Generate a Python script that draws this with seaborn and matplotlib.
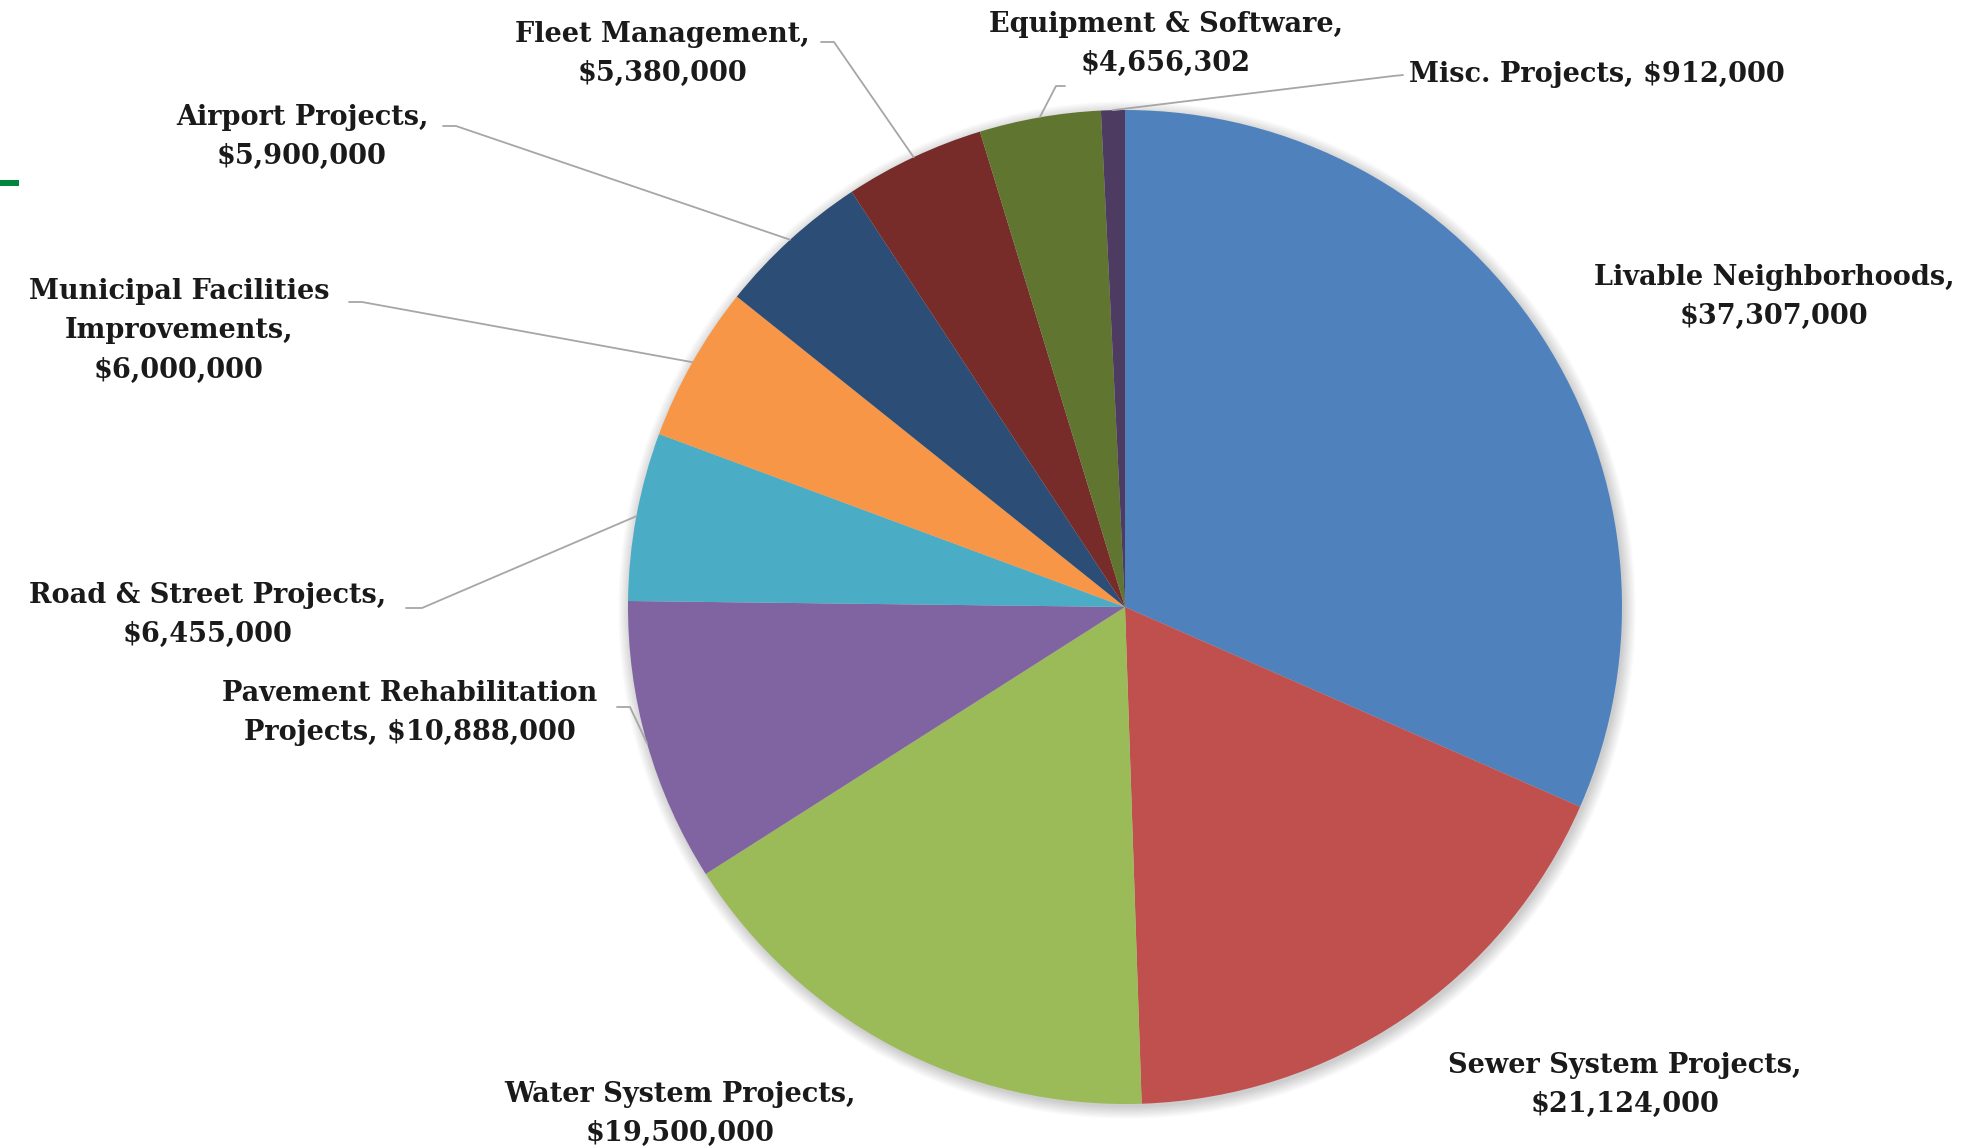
import numpy as np
import matplotlib
matplotlib.use("Agg")
import matplotlib.pyplot as plt
import seaborn as sns
from matplotlib.patches import Circle, Rectangle

sns.set_style("white")
plt.rcParams['font.family'] = ['DejaVu Serif']

# Data (clockwise from 12 o'clock)
categories = ["Livable Neighborhoods", "Sewer System Projects", "Water System Projects",
              "Pavement Rehabilitation Projects", "Road & Street Projects",
              "Municipal Facilities Improvements", "Airport Projects",
              "Fleet Management", "Equipment & Software", "Misc. Projects"]
amounts = [37307000, 21124000, 19500000, 10888000, 6455000,
           6000000, 5900000, 5380000, 4656302, 912000]
label_text = ["Livable Neighborhoods,\n$37,307,000",
              "Sewer System Projects,\n$21,124,000",
              "Water System Projects,\n$19,500,000",
              "Pavement Rehabilitation\nProjects, $10,888,000",
              "Road & Street Projects,\n$6,455,000",
              "Municipal Facilities\nImprovements,\n$6,000,000",
              "Airport Projects,\n$5,900,000",
              "Fleet Management,\n$5,380,000",
              "Equipment & Software,\n$4,656,302",
              "Misc. Projects, $912,000"]
colors = ["#4F81BD", "#C0504D", "#9BBB59", "#8064A2", "#4BACC6",
          "#F79646", "#2C4D75", "#772C2A", "#5F7530", "#4D3B62"]

W, H = 1969, 1148
fig = plt.figure(figsize=(W / 100, H / 100), dpi=100)
ax = fig.add_axes([0, 0, 1, 1])

def Y(y):
    return H - y

cx, cy, r = 1125, 607, 497

# soft shadow
for i in range(10):
    ax.add_patch(Circle((cx + 2, Y(cy) - 3), r + i * 1.3, color="#000000",
                        alpha=0.018, lw=0, zorder=1))

wedges, _ = ax.pie(amounts, colors=colors, startangle=90, counterclock=False,
                   center=(cx, Y(cy)), radius=r, frame=True,
                   wedgeprops=dict(linewidth=0))
for w in wedges:
    w.set_zorder(2)
ax.set_xlim(0, W)
ax.set_ylim(0, H)
ax.set_aspect("equal")
ax.axis("off")

# label placement: (x, y, ha) in pixels from top-left, and leader start points
label_pos = [(1774, 297, "center"), (1625, 1085, "center"), (680, 1114, "center"),
             (410, 713, "center"), (208, 615, "center"), (179, 331, "center"),
             (302, 137, "center"), (662, 54, "center"), (1166, 44, "center"),
             (1409, 74, "left")]
leaders = {3: [(617, 707), (630, 707)],
           4: [(406, 608), (422, 608)],
           5: [(349, 302), (362, 302)],
           6: [(443, 126), (456, 126)],
           7: [(821, 42), (834, 42)],
           8: [(1065, 86), (1056, 86)],
           9: [(1403, 75), (1393, 76)]}

for i, (txt, (x, y, ha)) in enumerate(zip(label_text, label_pos)):
    ax.text(x, Y(y), txt, ha=ha, va="center", fontsize=19.5, fontweight="bold",
            color="#1a1a1a", linespacing=1.58, zorder=5)
    if i in leaders:
        w = wedges[i]
        mid = np.deg2rad((w.theta1 + w.theta2) / 2)
        ex, ey = cx + r * np.cos(mid), Y(cy) + r * np.sin(mid)
        pts = leaders[i]
        xs = [p[0] for p in pts] + [ex]
        ys = [Y(p[1]) for p in pts] + [ey]
        ax.plot(xs, ys, color="#a6a6a6", lw=1.3, zorder=3)

# small green mark at left edge
ax.add_patch(Rectangle((0, Y(186)), 19, 6, color="#00853F", lw=0, zorder=5))

fig.savefig("out.png", dpi=100, facecolor="white")
